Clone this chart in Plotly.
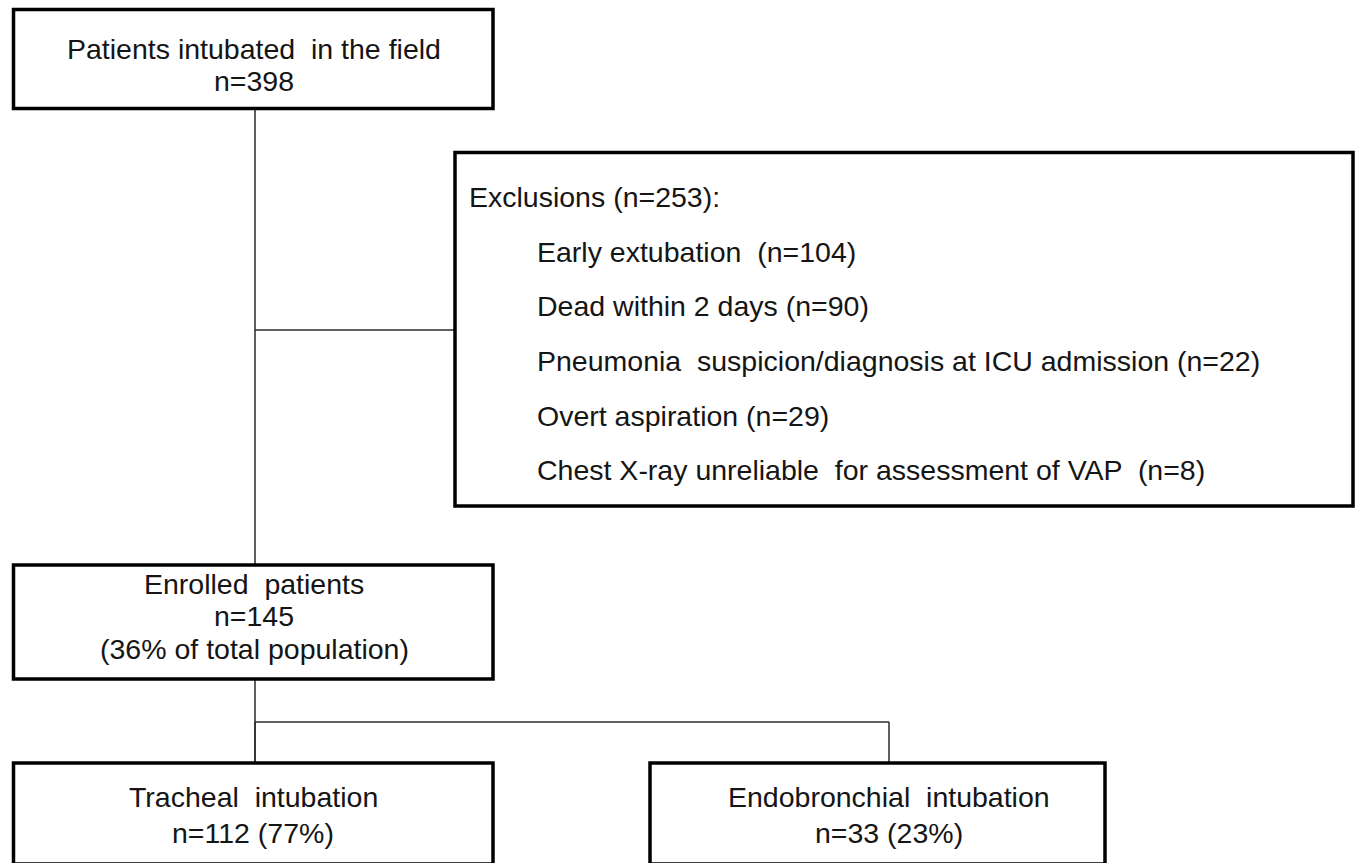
import plotly.graph_objects as go

# Flowchart content
box_names = ["field", "exclusions", "enrolled", "tracheal", "endobronchial"]
box_x0 = [13.5, 455, 13.5, 13.5, 650]
box_x1 = [493, 1353, 493, 493, 1105]
box_y0 = [9.5, 152.5, 565, 763, 763]
box_y1 = [108.5, 506, 679, 864, 864]

field_lines = ["Patients intubated  in the field", "n=398"]
field_y = [49, 81]
enrolled_lines = ["Enrolled  patients", "n=145", "(36% of total population)"]
enrolled_y = [584, 616, 649]
tracheal_lines = ["Tracheal  intubation", "n=112 (77%)"]
endo_lines = ["Endobronchial  intubation", "n=33 (23%)"]
bottom_y = [797, 833]

excl_header = "Exclusions (n=253):"
excl_items = ["Early extubation  (n=104)",
              "Dead within 2 days (n=90)",
              "Pneumonia  suspicion/diagnosis at ICU admission (n=22)",
              "Overt aspiration (n=29)",
              "Chest X-ray unreliable  for assessment of VAP  (n=8)"]
excl_y = [197, 252, 306, 361, 416, 470]

# connectors: (x0, y0, x1, y1)
conn_x0 = [255, 255, 255, 255, 255, 889]
conn_y0 = [108, 330, 679, 722, 722, 722]
conn_x1 = [255, 455, 255, 255, 889, 889]
conn_y1 = [565, 330, 763, 763, 722, 763]

FONT = "Liberation Sans, Arial, sans-serif"
FS = 28.5
TXT = "#151515"

fig = go.Figure()
fig.add_trace(go.Scatter(x=[0, 1356], y=[0, 863], mode="markers",
                         marker=dict(opacity=0), hoverinfo="skip", showlegend=False))

shapes = []
for x0, y0, x1, y1 in zip(conn_x0, conn_y0, conn_x1, conn_y1):
    shapes.append(dict(type="line", xref="x", yref="y", x0=x0, y0=y0, x1=x1, y1=y1,
                       line=dict(color="#2a2a2a", width=1.5), layer="below"))
for x0, x1, y0, y1 in zip(box_x0, box_x1, box_y0, box_y1):
    shapes.append(dict(type="rect", xref="x", yref="y", x0=x0, y0=y0, x1=x1, y1=y1,
                       line=dict(color="#000000", width=3.5), fillcolor="white", layer="below"))

annotations = []
def center_text(lines, ys, xc):
    for t, y in zip(lines, ys):
        annotations.append(dict(x=xc, y=y, xref="x", yref="y", text=t, showarrow=False,
                                xanchor="center", yanchor="middle",
                                font=dict(family=FONT, size=FS, color=TXT)))

center_text(field_lines, field_y, 254)
center_text(enrolled_lines, enrolled_y, 254)
center_text(tracheal_lines, bottom_y, 253)
center_text(endo_lines, bottom_y, 889)

annotations.append(dict(x=467, y=excl_y[0], xref="x", yref="y", text=excl_header,
                        showarrow=False, xanchor="left", yanchor="middle",
                        font=dict(family=FONT, size=FS, color=TXT)))
for t, y in zip(excl_items, excl_y[1:]):
    annotations.append(dict(x=535, y=y, xref="x", yref="y", text=t,
                            showarrow=False, xanchor="left", yanchor="middle",
                            font=dict(family=FONT, size=FS, color=TXT)))

fig.update_layout(
    width=1356, height=863,
    margin=dict(l=0, r=0, t=0, b=0),
    paper_bgcolor="white", plot_bgcolor="white",
    shapes=shapes, annotations=annotations,
    xaxis=dict(range=[0, 1356], visible=False, fixedrange=True),
    yaxis=dict(range=[863, 0], visible=False, fixedrange=True),
    showlegend=False,
)
fig.write_html("out.html", config={"displayModeBar": False},
               post_script="document.body.style.margin='0';document.body.style.overflow='hidden';")
